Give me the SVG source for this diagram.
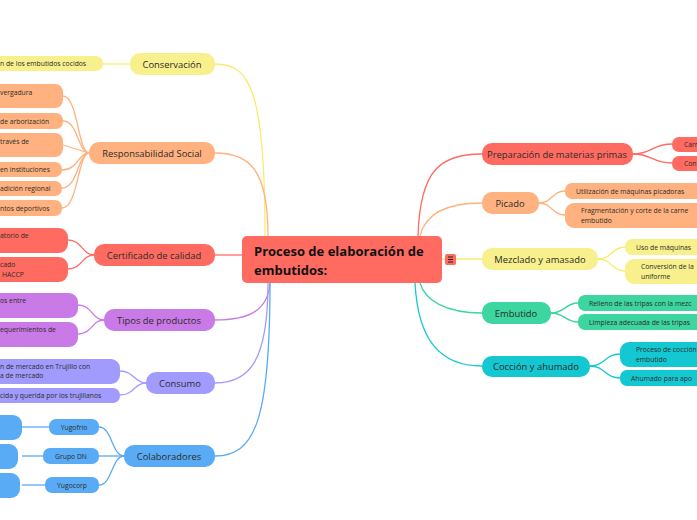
<svg xmlns="http://www.w3.org/2000/svg" width="697" height="520" viewBox="0 0 697 520">
<style>
text{font-family:"Open Sans","Noto Sans",sans-serif;fill:#2b2b2b}
.m{font-size:9.4px}
.c{font-size:6.8px}
.l{fill:none;stroke-width:1.3}
.red{fill:#ff6b61}.org{fill:#ffb27f}.yel{fill:#f8f08c}.pur{fill:#c97ae6}.lav{fill:#a29bfe}.blu{fill:#5aabf5}.grn{fill:#3dd6a0}.cya{fill:#14c8d2}
</style>
<rect width="697" height="520" fill="#fff"/>
<g id="connectors">
<path class="l" stroke="#f8ec70" d="M265 236 C265 90,250 64,215 64"/>
<path class="l" stroke="#ffb27f" d="M268 236 C268 170,250 153,215 153"/>
<path class="l" stroke="#ff6b61" d="M242 255 L215 255"/>
<path class="l" stroke="#c97ae6" d="M270 283 C268 310,250 320,215 320"/>
<path class="l" stroke="#a29bfe" d="M268 283 C268 360,250 383,215 383"/>
<path class="l" stroke="#5aabf5" d="M270 283 C270 420,255 456,215 456"/>
<path class="l" stroke="#ff6b61" d="M418 236 C420 170,440 154,482 154"/>
<path class="l" stroke="#ffb27f" d="M420 236 C425 215,445 203,482 203"/>
<path class="l" stroke="#f8ec70" d="M442 259 L482 259"/>
<path class="l" stroke="#3dd6a0" d="M420 283 C425 300,445 313,482 313"/>
<path class="l" stroke="#14c8d2" d="M415 283 C418 340,440 366,482 366"/>
<path class="l" stroke="#f8ec70" d="M130 64 L103 64"/>
<g stroke="#ffb27f"><path class="l" d="M89 153 C78 153,78 96,63 96"/><path class="l" d="M89 153 C78 153,78 121,63 121"/><path class="l" d="M89 153 L63 145"/><path class="l" d="M89 153 C78 153,78 170,62 170"/><path class="l" d="M89 153 C78 153,78 188,62 188"/><path class="l" d="M89 153 C78 153,78 208,62 208"/></g>
<g stroke="#ff6b61"><path class="l" d="M94 255 C82 255,82 240,68 240"/><path class="l" d="M94 255 C82 255,82 269,68 269"/></g>
<g stroke="#c97ae6"><path class="l" d="M104 320 C92 320,92 305,78 305"/><path class="l" d="M104 320 C92 320,92 334,78 334"/></g>
<g stroke="#a29bfe"><path class="l" d="M146 383 C134 383,134 371,120 371"/><path class="l" d="M146 383 C134 383,134 395,120 395"/></g>
<g stroke="#5aabf5"><path class="l" d="M124 456 C112 456,112 427,99 427"/><path class="l" d="M124 456 L99 456"/><path class="l" d="M124 456 C112 456,112 485,99 485"/><path class="l" d="M49 427 L22 427"/><path class="l" d="M43 456 L22 456"/><path class="l" d="M45 485 L22 485"/></g>
<g stroke="#ff6b61"><path class="l" d="M633 154 C652 154,652 144,672 144"/><path class="l" d="M633 154 C652 154,652 163,672 163"/></g>
<g stroke="#ffb27f"><path class="l" d="M539 203 C552 203,552 191,565 191"/><path class="l" d="M539 203 C552 203,552 215,565 215"/></g>
<g stroke="#f8ec70"><path class="l" d="M598 259 C612 259,612 247,625 247"/><path class="l" d="M598 259 C612 259,612 271,625 271"/></g>
<g stroke="#3dd6a0"><path class="l" d="M551 313 C565 313,565 303,578 303"/><path class="l" d="M551 313 C565 313,565 322,578 322"/></g>
<g stroke="#14c8d2"><path class="l" d="M590 366 C605 366,605 354,620 354"/><path class="l" d="M590 366 C605 366,605 378,620 378"/></g>
</g>
<g id="center"><rect x="242" y="236" width="200" height="47" rx="5" class="red"/><text x="254" y="256" font-size="13" font-weight="bold" style="fill:#111">Proceso de elaboración de</text><text x="254" y="275" font-size="13" font-weight="bold" style="fill:#111">embutidos:</text><rect x="445" y="254" width="11" height="11" rx="2" class="red"/><path d="M448 257h5M448 259.5h5M448 262h5" stroke="#222" stroke-width="1"/></g>
<g id="conservacion"><rect x="130" y="53" width="85" height="22" rx="10" class="yel"/><text class="m" x="172" y="67.5" text-anchor="middle">Conservación</text><rect x="-20" y="56" width="123" height="15" rx="7" class="yel"/><text class="c" x="0" y="66">n de los embutidos cocidos</text></g>
<g id="responsabilidad"><rect x="89" y="142" width="126" height="22" rx="10" class="org"/><text class="m" x="152" y="156.5" text-anchor="middle">Responsabilidad Social</text>
<rect x="-20" y="84" width="83" height="24" rx="8" class="org"/><text class="c" x="0" y="95">vergadura</text>
<rect x="-20" y="113" width="83" height="16" rx="7" class="org"/><text class="c" x="0" y="124">de arborización</text>
<rect x="-20" y="133" width="83" height="24" rx="8" class="org"/><text class="c" x="0" y="144">través de</text>
<rect x="-20" y="162" width="82" height="15" rx="7" class="org"/><text class="c" x="0" y="172">en instituciones</text>
<rect x="-20" y="181" width="82" height="15" rx="7" class="org"/><text class="c" x="0" y="191">adición regional</text>
<rect x="-20" y="200" width="82" height="16" rx="7" class="org"/><text class="c" x="0" y="211">ntos deportivos</text></g>
<g id="certificado"><rect x="94" y="244" width="121" height="22" rx="10" class="red"/><text class="m" x="154" y="258.5" text-anchor="middle">Certificado de calidad</text>
<rect x="-20" y="228" width="88" height="25" rx="9" class="red"/><text class="c" x="0" y="238">atorio de</text>
<rect x="-20" y="257" width="88" height="25" rx="9" class="red"/><text class="c" x="0" y="267">cado</text><text class="c" x="2" y="277">HACCP</text></g>
<g id="tipos"><rect x="104" y="309" width="111" height="22" rx="10" class="pur"/><text class="m" x="159" y="323.5" text-anchor="middle">Tipos de productos</text>
<rect x="-20" y="293" width="98" height="25" rx="9" class="pur"/><text class="c" x="0" y="303">os entre</text>
<rect x="-20" y="322" width="98" height="25" rx="9" class="pur"/><text class="c" x="0" y="332">equerimientos de</text></g>
<g id="consumo"><rect x="146" y="372" width="69" height="22" rx="10" class="lav"/><text class="m" x="180" y="386.5" text-anchor="middle">Consumo</text>
<rect x="-20" y="359" width="140" height="25" rx="9" class="lav"/><text class="c" x="0" y="369">n de mercado en Trujillo con</text><text class="c" x="0" y="378">a de mercado</text>
<rect x="-20" y="388" width="140" height="15" rx="7" class="lav"/><text class="c" x="0" y="398">cida y querida por los trujillanos</text></g>
<g id="colaboradores"><rect x="124" y="445" width="91" height="22" rx="10" class="blu"/><text class="m" x="169" y="459.5" text-anchor="middle">Colaboradores</text>
<rect x="49" y="419" width="50" height="16" rx="7" class="blu"/><text class="c" x="74" y="430" text-anchor="middle">Yugofrío</text>
<rect x="43" y="448" width="56" height="16" rx="7" class="blu"/><text class="c" x="71" y="459" text-anchor="middle">Grupo DN</text>
<rect x="45" y="477" width="54" height="16" rx="7" class="blu"/><text class="c" x="72" y="488" text-anchor="middle">Yugocorp</text>
<rect x="-20" y="415" width="42" height="25" rx="9" class="blu"/><rect x="-20" y="444" width="38" height="25" rx="9" class="blu"/><rect x="-20" y="473" width="40" height="25" rx="9" class="blu"/></g>
<g id="preparacion"><rect x="482" y="143" width="151" height="22" rx="10" class="red"/><text class="m" x="557" y="157.5" text-anchor="middle">Preparación de materias primas</text>
<rect x="672" y="137" width="40" height="15" rx="7" class="red"/><text class="c" x="684" y="147">Carn</text>
<rect x="672" y="156" width="40" height="15" rx="7" class="red"/><text class="c" x="684" y="166">Con</text></g>
<g id="picado"><rect x="482" y="192" width="57" height="22" rx="10" class="org"/><text class="m" x="510" y="206.5" text-anchor="middle">Picado</text>
<rect x="565" y="183" width="150" height="16" rx="7" class="org"/><text class="c" x="576" y="194">Utilización de máquinas picadoras</text>
<rect x="565" y="203" width="150" height="25" rx="9" class="org"/><text class="c" x="581" y="213">Fragmentación y corte de la carne</text><text class="c" x="581" y="223">embutido</text></g>
<g id="mezclado"><rect x="482" y="248" width="116" height="22" rx="10" class="yel"/><text class="m" x="540" y="262.5" text-anchor="middle">Mezclado y amasado</text>
<rect x="625" y="239" width="90" height="16" rx="7" class="yel"/><text class="c" x="636" y="250">Uso de máquinas</text>
<rect x="625" y="259" width="90" height="25" rx="9" class="yel"/><text class="c" x="641" y="269">Conversión de la</text><text class="c" x="641" y="279">uniforme</text></g>
<g id="embutido"><rect x="482" y="302" width="69" height="22" rx="10" class="grn"/><text class="m" x="516" y="316.5" text-anchor="middle">Embutido</text>
<rect x="578" y="295" width="140" height="16" rx="7" class="grn"/><text class="c" x="589" y="306">Relleno de las tripas con la mezc</text>
<rect x="578" y="314" width="140" height="16" rx="7" class="grn"/><text class="c" x="589" y="325">Limpieza adecuada de las tripas</text></g>
<g id="coccion"><rect x="482" y="356" width="108" height="21" rx="10" class="cya"/><text class="m" x="536" y="369.5" text-anchor="middle">Cocción y ahumado</text>
<rect x="620" y="342" width="95" height="25" rx="9" class="cya"/><text class="c" x="636" y="352">Proceso de cocción</text><text class="c" x="636" y="362">embutido</text>
<rect x="620" y="370" width="95" height="16" rx="7" class="cya"/><text class="c" x="631" y="381">Ahumado para apo</text></g>
</svg>
